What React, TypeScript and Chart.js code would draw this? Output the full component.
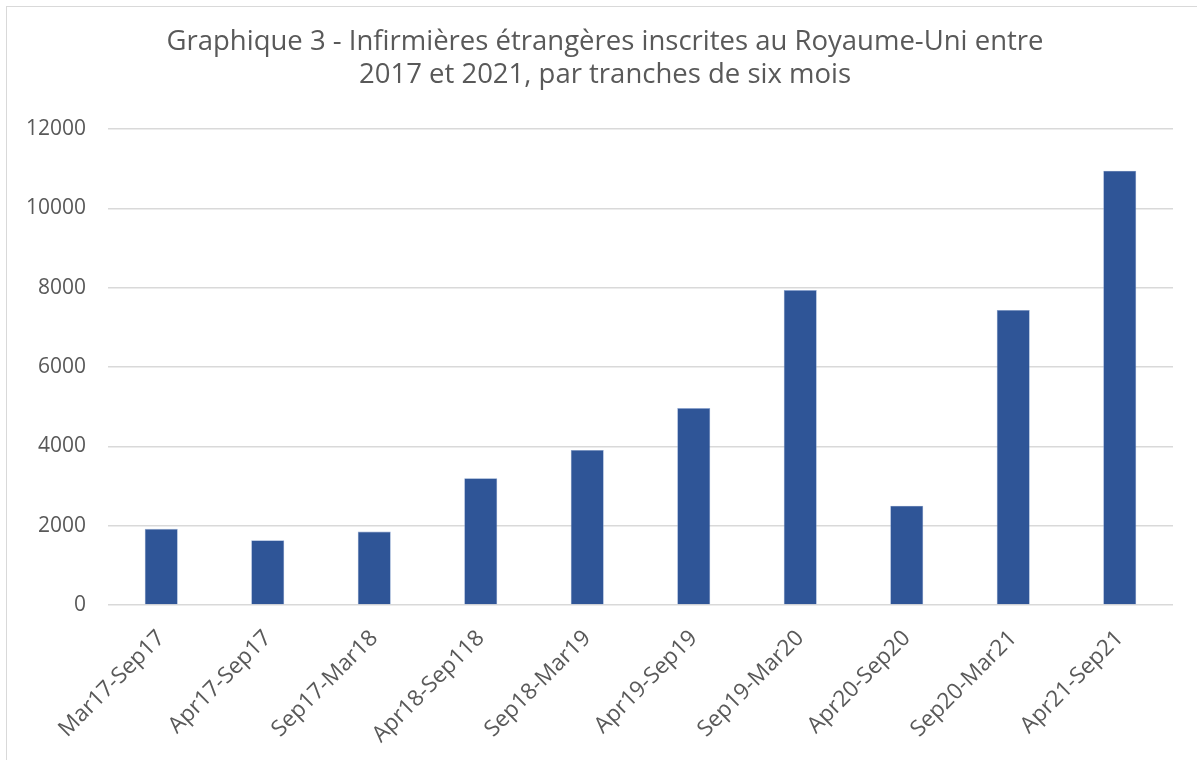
import React, { useEffect, useRef } from "react";
import { Chart, registerables } from "chart.js";

Chart.register(...registerables);

const categories = [
  "Mar17-Sep17",
  "Apr17-Sep17",
  "Sep17-Mar18",
  "Apr18-Sep118",
  "Sep18-Mar19",
  "Apr19-Sep19",
  "Sep19-Mar20",
  "Apr20-Sep20",
  "Sep20-Mar21",
  "Apr21-Sep21",
];
const values = [1920, 1630, 1850, 3195, 3910, 4965, 7940, 2505, 7440, 10950];
const titleLines = [
  "Graphique 3 - Infirmières étrangères inscrites au Royaume-Uni entre",
  "2017 et 2021, par tranches de six mois",
];

const TEXT = "#595959";
const FONT = "'Open Sans', Roboto, sans-serif";

const titlePlugin = {
  id: "centeredTitle",
  afterDraw(chart: any) {
    const ctx = chart.ctx;
    ctx.save();
    ctx.fillStyle = TEXT;
    ctx.font = `27.5px ${FONT}`;
    ctx.textAlign = "center";
    ctx.textBaseline = "middle";
    const cx = 605;
    titleLines.forEach((line, i) => {
      ctx.fillText(line, cx, 42.5 + i * 33);
    });
    ctx.restore();
  },
};

export default function App() {
  const ref = useRef<HTMLCanvasElement | null>(null);
  useEffect(() => {
    document.body.style.margin = "0";
    const ctx = ref.current!;
    const chart = new Chart(ctx, {
      type: "bar",
      data: {
        labels: categories,
        datasets: [
          {
            data: values,
            backgroundColor: "#2F5597",
            borderColor: "#8FA7D2",
            borderWidth: 0.6,
            barPercentage: 0.62,
            categoryPercentage: 0.5,
          },
        ],
      },
      plugins: [titlePlugin],
      options: {
        animation: false,
        responsive: false,
        maintainAspectRatio: false,
        layout: { padding: { left: 0, right: 24, top: 129, bottom: 0 } },
        plugins: {
          legend: { display: false },
          tooltip: { enabled: false },
          title: { display: false },
        },
        scales: {
          x: {
            grid: { display: false },
            border: { display: false },
            ticks: {
              color: TEXT,
              font: { family: FONT, size: 22.5 },
              maxRotation: 45,
              minRotation: 45,
              autoSkip: false,
              padding: 12,
            },
            afterFit: (s: any) => {
              s.height = 155;
            },
          },
          y: {
            min: 0,
            max: 12000,
            border: { display: false },
            grid: { color: "#d9d9d9", lineWidth: 1.5, drawTicks: false },
            ticks: {
              stepSize: 2000,
              color: TEXT,
              font: { family: FONT, size: 21 },
              padding: 22,
              callback: (v: any) => String(v),
            },
            afterFit: (s: any) => {
              s.width = 108;
            },
          },
        },
      },
    });
    return () => chart.destroy();
  }, []);
  return (
    <div style={{ position: "relative", width: 1197, height: 760, overflow: "hidden", background: "#fff" }}>
      <canvas ref={ref} width={1197} height={760} style={{ position: "absolute", left: 0, top: 0 }} />
      <div
        style={{
          position: "absolute",
          left: 6,
          top: 6,
          width: 1210,
          height: 780,
          border: "1.5px solid #d9d9d9",
          pointerEvents: "none",
        }}
      />
    </div>
  );
}
